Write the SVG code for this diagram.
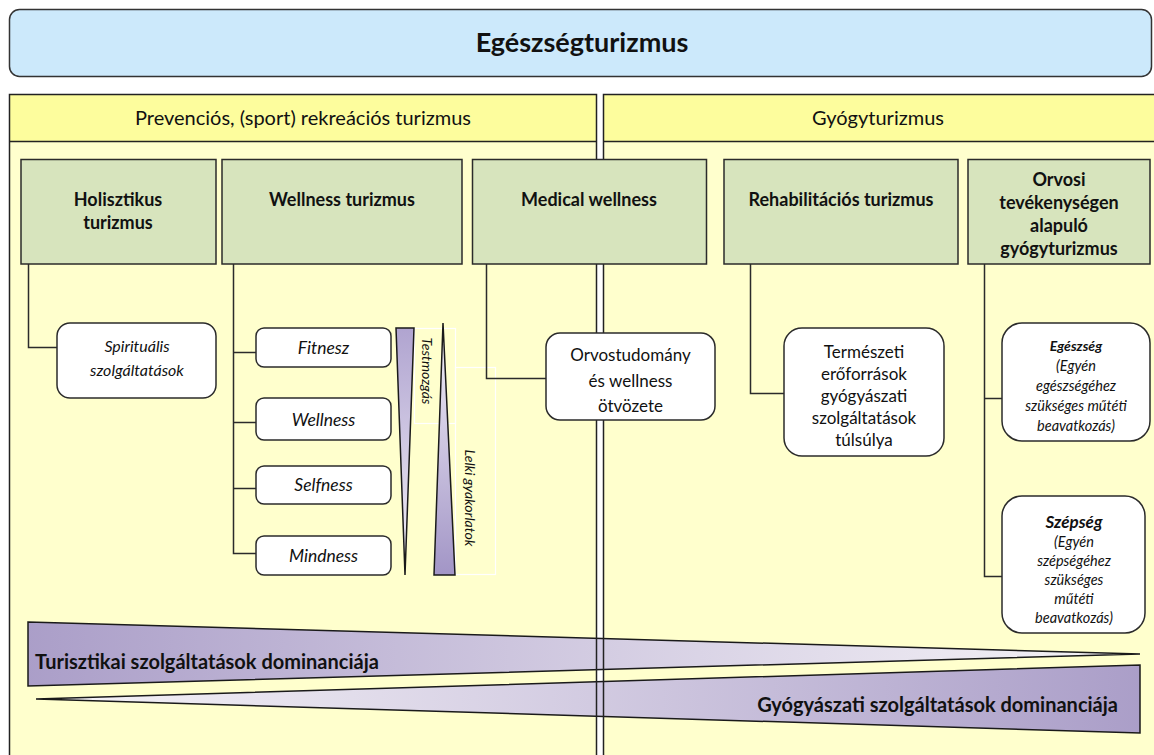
<svg xmlns="http://www.w3.org/2000/svg" width="1154" height="755" viewBox="0 0 1154 755">
<defs>
<style>
text{font-family:Lato,"Liberation Sans","DejaVu Sans",sans-serif;fill:#111;}
.b{font-weight:bold;}
.i{font-style:italic;}
.c{text-anchor:middle;}
.green{fill:#d7e4bd;stroke:#2b2b2b;stroke-width:1.5;}
.white{fill:#fff;stroke:#2b2b2b;stroke-width:1.5;}
.ln{fill:none;stroke:#2b2b2b;stroke-width:1.5;}
.tri{stroke:#1a1a1a;stroke-width:1.5;}
.faint{fill:none;stroke:#ffffff;stroke-width:1.2;}
</style>
<linearGradient id="gTop" x1="0" y1="0" x2="1" y2="0">
<stop offset="0" stop-color="#a699c8"/><stop offset="0.55" stop-color="#d4cde5"/><stop offset="1" stop-color="#f6f4fa"/>
</linearGradient>
<linearGradient id="gBot" x1="0" y1="0" x2="1" y2="0">
<stop offset="0" stop-color="#f6f4fa"/><stop offset="0.45" stop-color="#d4cde5"/><stop offset="1" stop-color="#a699c8"/>
</linearGradient>
<linearGradient id="gDown" x1="0" y1="0" x2="0" y2="1">
<stop offset="0" stop-color="#b0a4d0"/><stop offset="1" stop-color="#f4f2f9"/>
</linearGradient>
<linearGradient id="gUp" x1="0" y1="0" x2="0" y2="1">
<stop offset="0" stop-color="#f4f2f9"/><stop offset="1" stop-color="#a295c6"/>
</linearGradient>
</defs>

<g id="title">
<rect x="9.5" y="9.5" width="1142" height="67" rx="10" fill="#cce9fb" stroke="#333" stroke-width="1.5"/>
<text class="b c" x="582" y="52" font-size="27">Egészségturizmus</text>
</g>

<g id="panels-fill">
<rect x="9.5" y="94.5" width="587" height="47" fill="#fdfd9d"/>
<rect x="9.5" y="141.5" width="587" height="620" fill="#ffffcd"/>
<rect x="603.5" y="94.5" width="560" height="47" fill="#fdfd9d"/>
<rect x="603.5" y="141.5" width="560" height="620" fill="#ffffcd"/>
</g>

<g id="dominance">
<polygon class="tri" points="28,622 1140,654 28,686" fill="url(#gTop)" fill-opacity="0.95"/>
<polygon class="tri" points="36,699 1140,665 1140,733" fill="url(#gBot)" fill-opacity="0.95"/>
<text class="b" x="35" y="669" font-size="20">Turisztikai szolgáltatások dominanciája</text>
<text class="b" x="1118" y="712" font-size="20" text-anchor="end">Gyógyászati szolgáltatások dominanciája</text>
</g>

<g id="panels">
<g id="panel-prevencios">
<rect x="9.5" y="94.5" width="587" height="680" fill="none" stroke="#222" stroke-width="1.5"/>
<line x1="9.5" y1="141.5" x2="596.5" y2="141.5" stroke="#222" stroke-width="1.5"/>
<text class="c" x="303" y="125" font-size="20">Prevenciós, (sport) rekreációs turizmus</text>
</g>
<g id="panel-gyogy">
<rect x="603.5" y="94.5" width="580" height="680" fill="none" stroke="#222" stroke-width="1.5"/>
<line x1="603.5" y1="141.5" x2="1160" y2="141.5" stroke="#222" stroke-width="1.5"/>
<text class="c" x="878" y="125" font-size="20">Gyógyturizmus</text>
</g>
</g>

<g id="label-frames">
<rect class="faint" x="414.5" y="328.5" width="41" height="95"/>
<rect class="faint" x="455.5" y="367.5" width="40" height="207"/>
</g>

<g id="connectors">
<polyline class="ln" points="28.5,264 28.5,347.5 57,347.5"/>
<polyline class="ln" points="233.5,264 233.5,553.5 256,553.5"/>
<line class="ln" x1="233.5" y1="352.5" x2="256" y2="352.5"/>
<line class="ln" x1="233.5" y1="422.5" x2="256" y2="422.5"/>
<line class="ln" x1="233.5" y1="488.5" x2="256" y2="488.5"/>
<polyline class="ln" points="486.5,264 486.5,378.5 546,378.5"/>
<polyline class="ln" points="750.5,264 750.5,393.5 784,393.5"/>
<polyline class="ln" points="984.5,264 984.5,576.5 1002,576.5"/>
<line class="ln" x1="984.5" y1="398.5" x2="1002" y2="398.5"/>
</g>

<g id="holisztikus">
<rect class="green" x="21" y="159.5" width="195" height="104.5"/>
<text class="b c" x="118" y="206" font-size="18">Holisztikus</text>
<text class="b c" x="118" y="229" font-size="18">turizmus</text>
</g>
<g id="wellness-turizmus">
<rect class="green" x="222" y="159.5" width="240" height="104.5"/>
<text class="b c" x="342" y="206" font-size="18">Wellness turizmus</text>
</g>
<g id="medical-wellness">
<rect class="green" x="472.5" y="159.5" width="234" height="104.5"/>
<text class="b c" x="589" y="206" font-size="18">Medical wellness</text>
</g>
<g id="rehabilitacios">
<rect class="green" x="724" y="159.5" width="234" height="104.5"/>
<text class="b c" x="841" y="206" font-size="18">Rehabilitációs turizmus</text>
</g>
<g id="orvosi">
<rect class="green" x="968" y="159.5" width="182" height="104.5"/>
<text class="b c" x="1059" y="186" font-size="18">Orvosi</text>
<text class="b c" x="1059" y="209" font-size="18">tevékenységen</text>
<text class="b c" x="1059" y="232" font-size="18">alapuló</text>
<text class="b c" x="1059" y="255" font-size="18">gyógyturizmus</text>
</g>

<g id="spiritualis">
<rect class="white" x="57" y="323" width="159" height="75" rx="13"/>
<text class="i c" x="137" y="352" font-size="16">Spirituális</text>
<text class="i c" x="137" y="376" font-size="16">szolgáltatások</text>
</g>
<g id="fitnesz">
<rect class="white" x="256" y="328" width="135" height="39" rx="8"/>
<text class="i c" x="323.5" y="354" font-size="17.5">Fitnesz</text>
</g>
<g id="wellness">
<rect class="white" x="256" y="398" width="135" height="42" rx="8"/>
<text class="i c" x="323.5" y="426" font-size="17.5">Wellness</text>
</g>
<g id="selfness">
<rect class="white" x="256" y="466" width="135" height="38" rx="8"/>
<text class="i c" x="323.5" y="491" font-size="17.5">Selfness</text>
</g>
<g id="mindness">
<rect class="white" x="256" y="536" width="135" height="39" rx="8"/>
<text class="i c" x="323.5" y="562" font-size="17.5">Mindness</text>
</g>

<g id="testmozgas">
<polygon class="tri" points="396,328 414,328 405,575" fill="url(#gDown)"/>
<text class="i c" transform="translate(422,371) rotate(90)" font-size="14">Testmozgás</text>
</g>
<g id="lelki">
<polygon class="tri" points="443,323 455,575 434,575" fill="url(#gUp)"/>
<text class="i c" transform="translate(465,498) rotate(90)" font-size="14">Lelki gyakorlatok</text>
</g>

<g id="orvostudomany">
<rect class="white" x="546" y="333" width="169" height="87" rx="14"/>
<text class="c" x="630.5" y="361" font-size="17">Orvostudomány</text>
<text class="c" x="630.5" y="387" font-size="17">és wellness</text>
<text class="c" x="630.5" y="412" font-size="17">ötvözete</text>
</g>
<g id="termeszeti">
<rect class="white" x="784" y="328" width="160" height="128" rx="18"/>
<text class="c" x="864" y="358" font-size="17">Természeti</text>
<text class="c" x="864" y="380" font-size="17">erőforrások</text>
<text class="c" x="864" y="402" font-size="17">gyógyászati</text>
<text class="c" x="864" y="424" font-size="17">szolgáltatások</text>
<text class="c" x="864" y="446" font-size="17">túlsúlya</text>
</g>
<g id="egeszseg">
<rect class="white" x="1002" y="323" width="148" height="118" rx="20"/>
<text class="b i c" x="1076" y="351" font-size="14">Egészség</text>
<text class="i c" x="1076" y="371" font-size="14.5">(Egyén</text>
<text class="i c" x="1076" y="391" font-size="14.5">egészségéhez</text>
<text class="i c" x="1076" y="411" font-size="14.5">szükséges műtéti</text>
<text class="i c" x="1076" y="431" font-size="14.5">beavatkozás)</text>
</g>
<g id="szepseg">
<rect class="white" x="1002" y="496" width="143" height="137" rx="20"/>
<text class="b i c" x="1074" y="528" font-size="17">Szépség</text>
<text class="i c" x="1074" y="547" font-size="14.5">(Egyén</text>
<text class="i c" x="1074" y="566" font-size="14.5">szépségéhez</text>
<text class="i c" x="1074" y="585" font-size="14.5">szükséges</text>
<text class="i c" x="1074" y="604" font-size="14.5">műtéti</text>
<text class="i c" x="1074" y="623" font-size="14.5">beavatkozás)</text>
</g>
</svg>
